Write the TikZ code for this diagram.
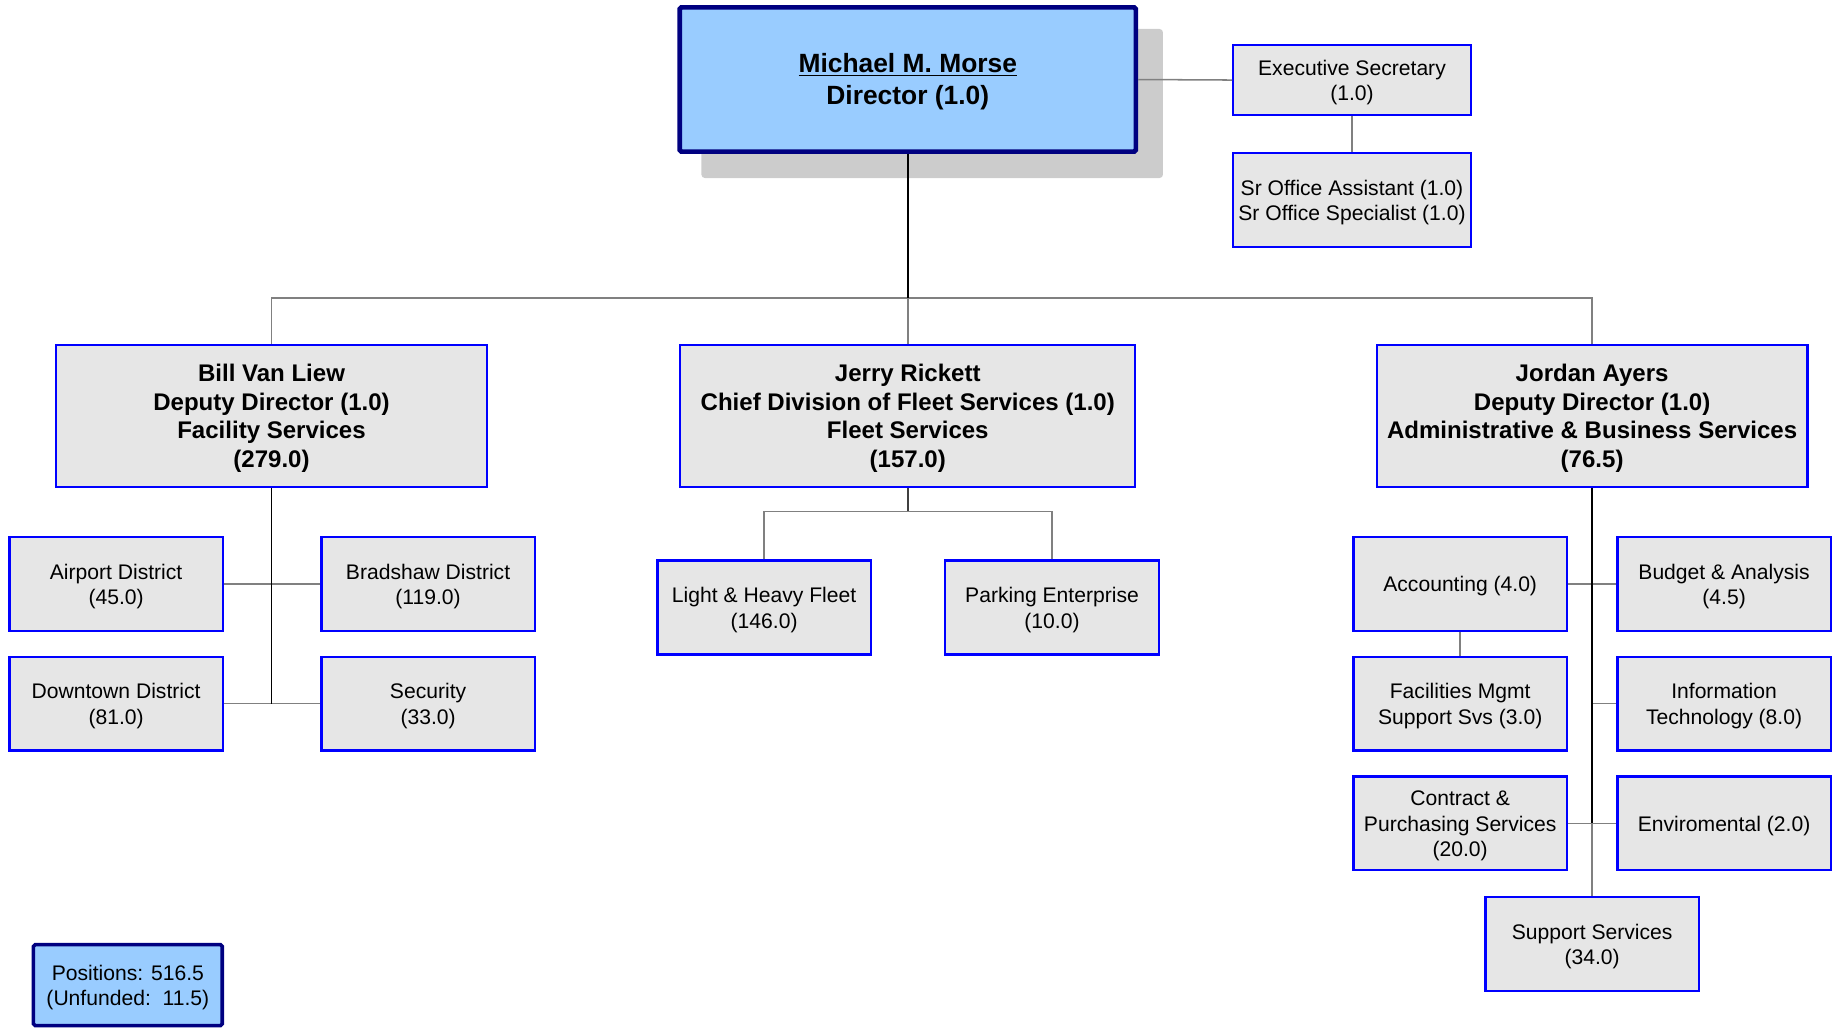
\documentclass[tikz,border=0pt]{standalone}
\usepackage{fontspec}
\setmainfont{Liberation Sans}
\definecolor{boxfill}{HTML}{E6E6E6}
\definecolor{boxline}{HTML}{0000FF}
\definecolor{topfill}{HTML}{99CCFF}
\definecolor{topline}{HTML}{000080}
\definecolor{shadowc}{HTML}{CCCCCC}
\definecolor{connc}{HTML}{808080}
\newcommand\firststrut{\rule{0pt}{\dimexpr0.73em+4pt\relax}}
\tikzset{
 unit/.style={draw=boxline, fill=boxfill, line width=2pt, inner sep=0pt, align=center,
   font=\fontsize{18}{21.5}\selectfont, minimum width=182pt, minimum height=80pt},
 head/.style={unit, font=\bfseries\fontsize{20.5}{24.5}\selectfont, minimum height=121pt},
 topbox/.style={draw=topline, fill=topfill, inner sep=0pt, align=center, rounded corners=1.5pt},
 conn/.style={draw=connc, line width=1.3pt},
 trunk/.style={draw=black, line width=1.6pt},
}
\begin{document}
\begin{tikzpicture}[x=1pt,y=-1pt]
\useasboundingbox (0,0) rectangle (1568,877);
% director
\fill[shadowc, rounded corners=3pt] (598,24.7) rectangle (991.6,151.8);
\node[topbox, line width=4pt, minimum width=389pt, minimum height=123pt,
  font=\bfseries\fontsize{22.5}{27}\selectfont] (dir) at (774,67.8)
  {\firststrut\underline{Michael M. Morse}\\Director (1.0)};
\node[unit, minimum width=202.5pt, minimum height=59.5pt] (exec) at (1152.75,68.25)
  {\firststrut Executive Secretary\\(1.0)};
\node[unit, minimum width=202.5pt, minimum height=80pt] (sr) at (1152.75,170.5)
  {\firststrut Sr Office Assistant (1.0)\\Sr Office Specialist (1.0)};
% level 2
\node[head, minimum width=367pt] (bill) at (231.5,354.5)
  {\firststrut Bill Van Liew\\Deputy Director (1.0)\\Facility Services\\(279.0)};
\node[head, minimum width=388pt] (jerry) at (774,354.5)
  {\firststrut Jerry Rickett\\Chief Division of Fleet Services (1.0)\\Fleet Services\\(157.0)};
\node[head, minimum width=367pt] (jordan) at (1357.5,354.5)
  {\firststrut Jordan Ayers\\Deputy Director (1.0)\\Administrative \& Business Services\\(76.5)};
% Bill's units
\node[unit] (airport) at (99,498) {\firststrut Airport District\\(45.0)};
\node[unit] (bradshaw) at (365,498) {\firststrut Bradshaw District\\(119.0)};
\node[unit] (downtown) at (99,600) {\firststrut Downtown District\\(81.0)};
\node[unit] (security) at (365,600) {\firststrut Security\\(33.0)};
% Jerry's units
\node[unit] (light) at (651.5,518) {\firststrut Light \& Heavy Fleet\\(146.0)};
\node[unit] (parking) at (897,518) {\firststrut Parking Enterprise\\(10.0)};
% Jordan's units
\node[unit] (acct) at (1245,498) {\firststrut Accounting (4.0)};
\node[unit] (budget) at (1470,498) {\firststrut Budget \& Analysis\\(4.5)};
\node[unit] (facil) at (1245,600) {\firststrut Facilities Mgmt\\Support Svs (3.0)};
\node[unit] (it) at (1470,600) {\firststrut Information\\Technology (8.0)};
\node[unit] (contract) at (1245,702) {\firststrut Contract \&\\Purchasing Services\\(20.0)};
\node[unit] (enviro) at (1470,702) {\firststrut Enviromental (2.0)};
\node[unit] (support) at (1357.5,805) {\firststrut Support Services\\(34.0)};
% positions
\node[topbox, line width=3pt, minimum width=161pt, minimum height=69pt,
  font=\fontsize{18}{21.5}\selectfont] (pos) at (109,840)
  {\firststrut Positions: 516.5\\(Unfunded:\ \ 11.5)};
% connectors
\coordinate (bus) at (774,254);
\coordinate (jbus) at (774,436);
\draw[conn] (dir.east) -- (exec.west);
\draw[conn] (exec.south) -- (sr.north);
\draw[conn] (bill.north) -- (bill.north |- bus) -- (jordan.north |- bus) -- (jordan.north);
\draw[conn] (bus) -- (jerry.north);
\draw[trunk] (dir.south) -- (bus);
% Bill
\draw[conn] (airport.east) -- (bradshaw.west);
\draw[conn] (downtown.east) -- (security.west);
\draw[trunk] (bill.south) -- (bill.south |- downtown.east);
% Jerry
\draw[conn] (light.north) |- (jbus) -| (parking.north);
\draw[conn, draw=black!75] (jerry.south) -- (jbus);
% Jordan
\draw[conn] (acct.east) -- (budget.west);
\draw[conn] (contract.east) -- (enviro.west);
\draw[conn] (jordan.south |- it.west) -- (it.west);
\draw[conn] (acct.south) -- (facil.north);
\draw[conn] (jordan.south |- enviro.west) -- (support.north);
\draw[trunk] (jordan.south) -- (jordan.south |- enviro.west);
\end{tikzpicture}
\end{document}
